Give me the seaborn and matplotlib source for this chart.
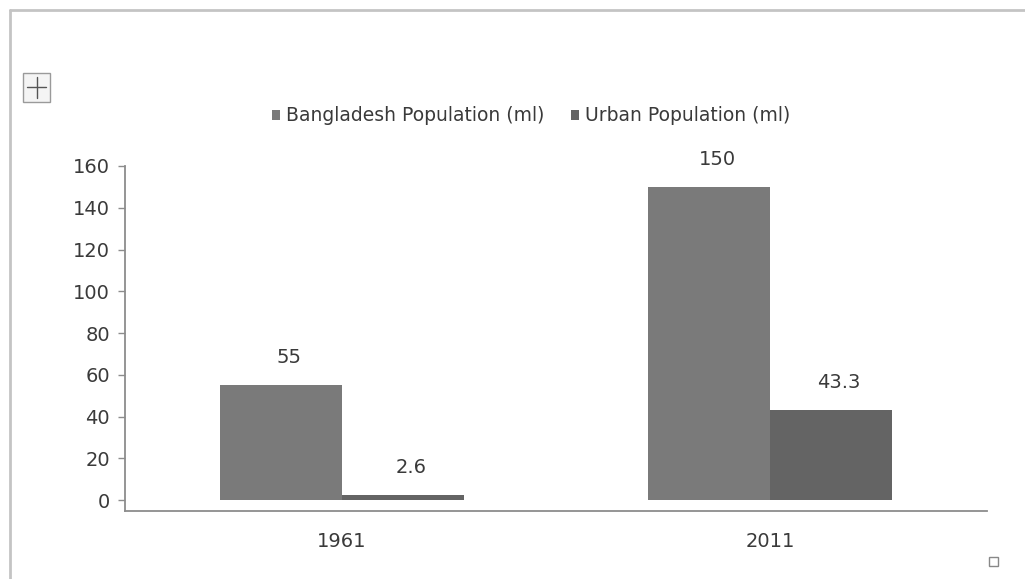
import matplotlib
matplotlib.use("Agg")
import matplotlib.pyplot as plt
from matplotlib.patches import Rectangle
from matplotlib.lines import Line2D
import pandas as pd
import seaborn as sns

# Population figures (millions)
years = ["1961", "2011"]
series_names = ["Bangladesh Population (ml)", "Urban Population (ml)"]
bangladesh_pop = [55, 150]
urban_pop = [2.6, 43.3]
y_ticks = [0, 20, 40, 60, 80, 100, 120, 140, 160]

bar_colors = ["#7a7a7a", "#646464"]
text_color = "#3a3a3a"
axis_color = "#8c8c8c"

df = pd.DataFrame({
    "year": years * 2,
    "series": [series_names[0]] * len(years) + [series_names[1]] * len(years),
    "value": bangladesh_pop + urban_pop,
})

sns.set_theme(style="white")
plt.rcParams["font.family"] = ["DejaVu Sans"]

fig = plt.figure(figsize=(10.25, 5.79), dpi=100)
fig.patch.set_facecolor("white")
ax = fig.add_axes([0.122, 0.1174, 0.841, 0.5959])

sns.barplot(data=df, x="year", y="value", hue="series", hue_order=series_names,
            palette=bar_colors, width=0.57, saturation=1, legend=False,
            errorbar=None, linewidth=0, edgecolor="none", ax=ax)

ax.set_ylim(-5.2, 160)
ax.set_xlim(-0.507, 1.507)
ax.set_yticks(y_ticks)
ax.set_yticklabels([str(t) for t in y_ticks])
ax.set_xlabel("")
ax.set_ylabel("")

for side in ["top", "right"]:
    ax.spines[side].set_visible(False)
for side in ["left", "bottom"]:
    ax.spines[side].set_color(axis_color)
    ax.spines[side].set_linewidth(1.3)

ax.tick_params(axis="y", which="major", left=True, length=5, width=1,
               color=axis_color, pad=6, labelsize=14, labelcolor=text_color)
ax.tick_params(axis="x", bottom=False, pad=9, labelsize=14, labelcolor=text_color)

# Value labels above each bar
for container, values in zip(ax.containers, [bangladesh_pop, urban_pop]):
    for bar, v in zip(container, values):
        ax.annotate(f"{v:g}", xy=(bar.get_x() + bar.get_width() / 2, v),
                    xytext=(8, 18), textcoords="offset pixels",
                    ha="center", va="bottom", fontsize=14, color=text_color)

# Legend across the top
handles = [Rectangle((0, 0), 1, 1, facecolor=c, edgecolor="none") for c in bar_colors]
fig.legend(handles, series_names, loc="center", bbox_to_anchor=(0.518, 0.80),
           ncol=2, frameon=False, fontsize=13.5, handlelength=0.45, handleheight=0.45,
           handletextpad=0.3, columnspacing=1.4, labelcolor=text_color)

# Outer frame lines (top and left)
fig.add_artist(Line2D([10 / 1025, 1.0], [1 - 10 / 579, 1 - 10 / 579],
                      transform=fig.transFigure, color="#c4c4c4", lw=2))
fig.add_artist(Line2D([10 / 1025, 10 / 1025], [0.0, 1 - 10 / 579],
                      transform=fig.transFigure, color="#c4c4c4", lw=2))

# Move handle icon at top-left
x0, y0, w, h = 23 / 1025, 1 - 102 / 579, 27 / 1025, 29 / 579
fig.add_artist(Rectangle((x0, y0), w, h, transform=fig.transFigure,
                         facecolor="#f4f4f4", edgecolor="#9a9a9a", lw=1))
cx, cy = x0 + w / 2, y0 + h / 2
fig.add_artist(Line2D([cx - 0.35 * w, cx + 0.35 * w], [cy, cy],
                      transform=fig.transFigure, color="#555555", lw=1))
fig.add_artist(Line2D([cx, cx], [cy - 0.35 * h, cy + 0.35 * h],
                      transform=fig.transFigure, color="#555555", lw=1))

# Resize handle at bottom-right
fig.add_artist(Rectangle((989 / 1025, 1 - 566 / 579), 9 / 1025, 9 / 579,
                         transform=fig.transFigure, facecolor="white",
                         edgecolor="#888888", lw=1))

fig.savefig("out.png", dpi=100, facecolor="white")
